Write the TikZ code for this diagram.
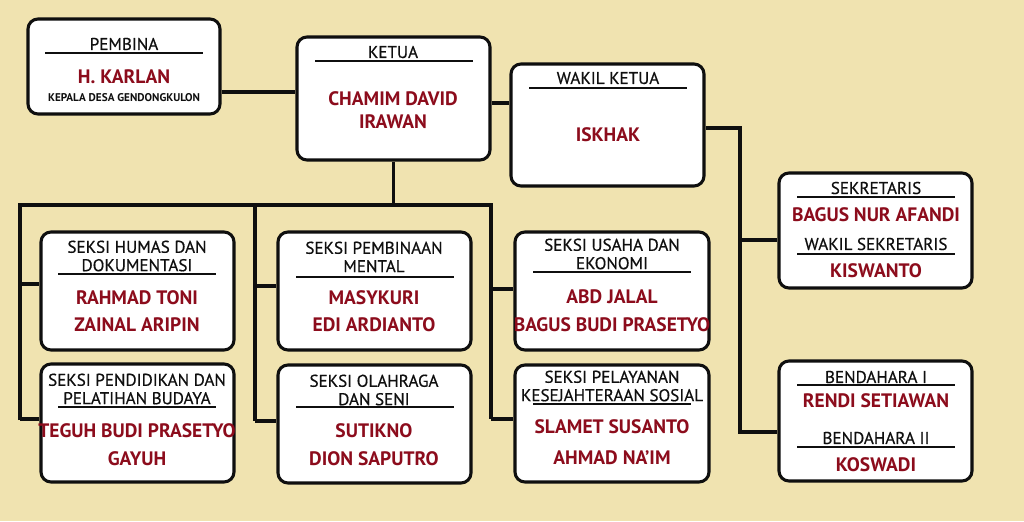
\documentclass[tikz,border=0pt]{standalone}
\usepackage{fontspec}
\setmainfont{PT Sans}
\newfontfamily\titlefont{PT Sans}[FakeBold=0.5]
\usetikzlibrary{fit}
\definecolor{paper} {RGB}{240,227,176}
\definecolor{namered}{RGB}{140,12,28}
\definecolor{ink}   {RGB}{15,15,15}

\begin{document}
\begin{tikzpicture}[x=0.75pt,y=-0.75pt,
    box/.style={draw=ink,line width=2.3pt,rounded corners=7.5pt,fill=white,inner sep=0pt},
    link/.style={draw=ink,line width=2.3pt},
    uline/.style={draw=ink,line width=1.2pt},
    ttl/.style={font=\titlefont\fontsize{12.8}{13.8}\selectfont,text=ink,align=center,inner sep=0pt},
    nm/.style={font=\fontsize{14.6}{16}\selectfont\bfseries,text=namered,inner sep=0pt},
    small/.style={font=\fontsize{8.4}{9}\selectfont\bfseries,text=ink,inner sep=0pt}]
  % background
  \fill[paper] (0,0) rectangle (1024,521);
  \useasboundingbox (0,0) rectangle (1024,521);

  % boxes
  \node[box,fit={(28,19) (220,114)}]   (pembina) {};
  \node[box,fit={(297,37) (490,160)}]  (ketua) {};
  \node[box,fit={(511,64) (704,186)}]  (wakil) {};
  \node[box,fit={(779,173) (972,288)}] (sekretaris) {};
  \node[box,fit={(779,361) (972,481)}] (bendahara) {};
  \node[box,fit={(41,232) (234,350)}]  (humas) {};
  \node[box,fit={(41,364) (234,482)}]  (pendidikan) {};
  \node[box,fit={(278,232) (471,350)}] (mental) {};
  \node[box,fit={(278,365) (471,483)}] (olahraga) {};
  \node[box,fit={(515,232) (709,350)}] (usaha) {};
  \node[box,fit={(515,365) (709,482)}] (pelayanan) {};

  % connectors
  \coordinate (busL) at (20,205);
  \coordinate (busM) at (255,205);
  \coordinate (busR) at (491,205);
  \coordinate (wk)   at (740,128);
  \draw[link] (pembina.east |- 0,92) -- (ketua.west |- 0,92);
  \draw[link] (ketua.east |- 0,103) -- (wakil.west |- 0,103);
  \draw[link] (ketua.south) -- (ketua.south |- busR);
  \draw[link] (busL |- 0,420) -- (busL) -- (busR) -- (busR |- 0,419);
  \draw[link] (busM) -- (busM |- 0,421);
  \draw[link] (busL |- 0,284) -- (humas.west |- 0,284);
  \draw[link] (busL |- 0,419) -- (pendidikan.west |- 0,419);
  \draw[link] (busM |- 0,286) -- (mental.west |- 0,286);
  \draw[link] (busM |- 0,421) -- (olahraga.west |- 0,421);
  \draw[link] (busR |- 0,289) -- (usaha.west |- 0,289);
  \draw[link] (busR |- 0,419) -- (pelayanan.west |- 0,419);
  \draw[link] (wakil.east |- wk) -- (wk) -- (wk |- 0,432) -- (bendahara.west |- 0,432);
  \draw[link] (wk |- 0,240) -- (sekretaris.west |- 0,240);

  % pembina
  \node[ttl] at (124,44) {PEMBINA};
  \draw[uline] (45,53) -- (203,53);
  \node[nm] at (124,77) {H. KARLAN};
  \node[small] at (124,98) {KEPALA DESA GENDONGKULON};

  % ketua
  \node[ttl] at (393,52) {KETUA};
  \draw[uline] (315,61) -- (473,61);
  \node[nm] at (393,99) {CHAMIM DAVID};
  \node[nm] at (393,122) {IRAWAN};

  % wakil ketua
  \node[ttl] at (608,78) {WAKIL KETUA};
  \draw[uline] (529,88) -- (687,88);
  \node[nm] at (608,135) {ISKHAK};

  % sekretaris
  \node[ttl] at (876,188) {SEKRETARIS};
  \draw[uline] (797,197) -- (955,197);
  \node[nm] at (876,215) {BAGUS NUR AFANDI};
  \node[ttl] at (876,244) {WAKIL SEKRETARIS};
  \draw[uline] (797,254) -- (955,254);
  \node[nm] at (876,271) {KISWANTO};

  % bendahara
  \node[ttl] at (876,377) {BENDAHARA I};
  \draw[uline] (797,385) -- (955,385);
  \node[nm] at (876,401) {RENDI SETIAWAN};
  \node[ttl] at (876,438) {BENDAHARA II};
  \draw[uline] (797,447) -- (955,447);
  \node[nm] at (876,465) {KOSWADI};

  % seksi humas
  \node[ttl] at (137,256) {SEKSI HUMAS DAN\\DOKUMENTASI};
  \draw[uline] (58,274) -- (216,274);
  \node[nm] at (137,298) {RAHMAD TONI};
  \node[nm] at (137,325) {ZAINAL ARIPIN};

  % seksi pendidikan
  \node[ttl] at (137,389) {SEKSI PENDIDIKAN DAN\\PELATIHAN BUDAYA};
  \draw[uline] (58,407) -- (216,407);
  \node[nm] at (137,431) {TEGUH BUDI PRASETYO};
  \node[nm] at (137,459) {GAYUH};

  % seksi pembinaan mental
  \node[ttl] at (374,257) {SEKSI PEMBINAAN\\MENTAL};
  \draw[uline] (296,277) -- (454,277);
  \node[nm] at (374,298) {MASYKURI};
  \node[nm] at (374,325) {EDI ARDIANTO};

  % seksi olahraga
  \node[ttl] at (374,390) {SEKSI OLAHRAGA\\DAN SENI};
  \draw[uline] (296,407) -- (454,407);
  \node[nm] at (374,431) {SUTIKNO};
  \node[nm] at (374,459) {DION SAPUTRO};

  % seksi usaha
  \node[ttl] at (612,254) {SEKSI USAHA DAN\\EKONOMI};
  \draw[uline] (533,272) -- (691,272);
  \node[nm] at (612,297) {ABD JALAL};
  \node[nm] at (612,325) {BAGUS BUDI PRASETYO};

  % seksi pelayanan
  \node[ttl] at (612,386) {SEKSI PELAYANAN\\KESEJAHTERAAN SOSIAL};
  \draw[uline] (533,404) -- (691,404);
  \node[nm] at (612,427) {SLAMET SUSANTO};
  \node[nm] at (612,458) {AHMAD NA'IM};
\end{tikzpicture}
\end{document}
